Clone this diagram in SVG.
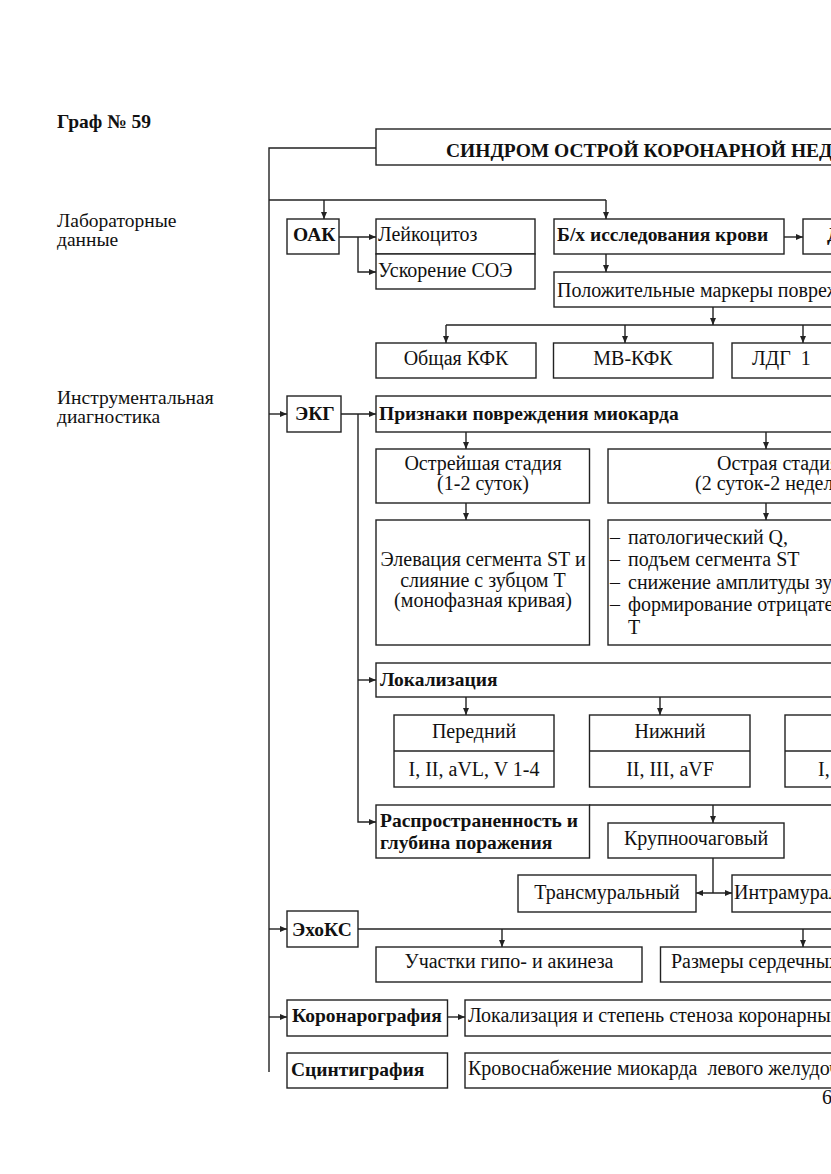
<svg xmlns="http://www.w3.org/2000/svg" width="831" height="1174" viewBox="0 0 831 1174">
<style>
text{font-family:"Liberation Serif","Times New Roman",serif;font-size:20px;fill:#111}
.b{font-weight:bold;font-size:19.5px}
.l{font-size:19.5px}
.m{text-anchor:middle}
rect{fill:#fff;stroke:#222;stroke-width:1.4}
.c line,.c polyline{stroke:#222;stroke-width:1.4;fill:none}
.a{marker-end:url(#ah)}
.d{marker-start:url(#ahs);marker-end:url(#ah)}
</style>
<defs>
<marker id="ah" markerUnits="userSpaceOnUse" markerWidth="8" markerHeight="8" refX="7" refY="4" orient="auto"><path d="M0,1 L7,4 L0,7 Z" fill="#222"/></marker>
<marker id="ahs" markerUnits="userSpaceOnUse" markerWidth="8" markerHeight="8" refX="0" refY="4" orient="auto"><path d="M7,1 L0,4 L7,7 Z" fill="#222"/></marker>
</defs>
<rect x="0" y="0" width="831" height="1174" style="fill:#fff;stroke:none"/>

<g id="labels">
<text x="57" y="128" class="b">Граф № 59</text>
<text x="57" y="227" class="l">Лабораторные</text>
<text x="57" y="246" class="l">данные</text>
<text x="57" y="404" class="l">Инструментальная</text>
<text x="57" y="423" class="l">диагностика</text>
<text x="822" y="1104">6</text>
</g>

<g class="c" id="connectors">
<polyline points="376,148 269,148 269,1072"/>
<line x1="269" y1="200" x2="606" y2="200"/>
<line x1="324" y1="200" x2="324" y2="219" class="a"/>
<line x1="606" y1="200" x2="606" y2="219" class="a"/>
<line x1="339" y1="237" x2="376" y2="237" class="a"/>
<polyline points="358,237 358,272 376,272" class="a"/>
<line x1="784" y1="237" x2="803" y2="237" class="a"/>
<line x1="606" y1="254" x2="606" y2="272" class="a"/>
<line x1="713" y1="307" x2="713" y2="325" class="a"/>
<line x1="446" y1="325" x2="831" y2="325"/>
<line x1="446" y1="325" x2="446" y2="343" class="a"/>
<line x1="625" y1="325" x2="625" y2="343" class="a"/>
<line x1="803" y1="325" x2="803" y2="343" class="a"/>
<line x1="269" y1="414" x2="287" y2="414" class="a"/>
<line x1="341" y1="414" x2="376" y2="414" class="a"/>
<polyline points="358,414 358,822 376,822" class="a"/>
<line x1="358" y1="680" x2="376" y2="680" class="a"/>
<line x1="466" y1="432" x2="466" y2="449" class="a"/>
<line x1="766" y1="432" x2="766" y2="449" class="a"/>
<line x1="466" y1="503" x2="466" y2="520" class="a"/>
<line x1="766" y1="503" x2="766" y2="520" class="a"/>
<line x1="466" y1="697" x2="466" y2="715" class="a"/>
<line x1="660" y1="697" x2="660" y2="715" class="a"/>
<line x1="589" y1="805" x2="831" y2="805"/>
<line x1="713" y1="805" x2="713" y2="823" class="a"/>
<line x1="713" y1="858" x2="713" y2="893"/>
<line x1="696" y1="893" x2="732" y2="893" class="d"/>
<line x1="269" y1="929" x2="287" y2="929" class="a"/>
<line x1="358" y1="929" x2="831" y2="929"/>
<line x1="502" y1="929" x2="502" y2="947" class="a"/>
<line x1="803" y1="929" x2="803" y2="947" class="a"/>
<line x1="269" y1="1017" x2="287" y2="1017" class="a"/>
<line x1="447" y1="1017" x2="465" y2="1017" class="a"/>
</g>

<g id="title"><rect x="376" y="129" width="480" height="36"/><text x="446" y="157" class="b">СИНДРОМ ОСТРОЙ КОРОНАРНОЙ НЕД</text></g>
<g id="oak"><rect x="287" y="219" width="52" height="35"/><text x="293" y="241" class="b">ОАК</text></g>
<g id="leuk"><rect x="376" y="219" width="159" height="35"/><text x="378" y="241">Лейкоцитоз</text></g>
<g id="soe"><rect x="376" y="254" width="159" height="35"/><text x="378" y="277">Ускорение СОЭ</text></g>
<g id="bx"><rect x="554" y="219" width="230" height="35"/><text x="557" y="241" class="b">Б/х исследования крови</text></g>
<g id="bx2"><rect x="803" y="219" width="60" height="35"/><text x="827" y="241" class="b">Д</text></g>
<g id="markers"><rect x="554" y="272" width="300" height="35"/><text x="557" y="297">Положительные маркеры повреж</text></g>
<g id="kfk"><rect x="376" y="343" width="160" height="35"/><text x="456" y="365" class="m">Общая КФК</text></g>
<g id="mbkfk"><rect x="553.5" y="343" width="159.5" height="35"/><text x="633" y="365" class="m">МВ-КФК</text></g>
<g id="ldg"><rect x="732" y="343" width="130" height="35"/><text x="752" y="365" xml:space="preserve">ЛДГ  1</text></g>
<g id="ekg"><rect x="287" y="396" width="54" height="36"/><text x="295" y="420" class="b">ЭКГ</text></g>
<g id="priznaki"><rect x="376" y="396" width="480" height="36"/><text x="379" y="420" class="b">Признаки повреждения миокарда</text></g>
<g id="ostr1"><rect x="376" y="449" width="213.5" height="54"/><text x="483" y="470" class="m">Острейшая стадия</text><text x="483" y="490" class="m">(1-2 суток)</text></g>
<g id="ostr2"><rect x="608" y="449" width="250" height="54"/><text x="717" y="470">Острая стадия</text><text x="695" y="490">(2 суток-2 недел</text></g>
<g id="elev"><rect x="376" y="520" width="213.5" height="125"/><text x="483" y="566" class="m">Элевация сегмента ST и</text><text x="483" y="587" class="m">слияние с зубцом T</text><text x="483" y="607" class="m">(монофазная кривая)</text></g>
<g id="signs"><rect x="608" y="520" width="250" height="125"/>
<text x="610" y="544">–</text><text x="628" y="544">патологический Q,</text>
<text x="610" y="566">–</text><text x="628" y="566">подъем сегмента ST</text>
<text x="610" y="589">–</text><text x="628" y="589">снижение амплитуды зу</text>
<text x="610" y="611">–</text><text x="628" y="611">формирование отрицате</text>
<text x="628" y="634">T</text></g>
<g id="lokal"><rect x="376" y="663" width="480" height="34"/><text x="380" y="686" class="b">Локализация</text></g>
<g id="peredn"><rect x="394" y="715" width="160" height="72"/><line x1="394" y1="751" x2="554" y2="751" style="stroke:#222;stroke-width:1.4"/><text x="474" y="738" class="m">Передний</text><text x="474" y="776" class="m">I, II, aVL, V 1-4</text></g>
<g id="nizh"><rect x="589.5" y="715" width="160.5" height="72"/><line x1="589.5" y1="751" x2="750" y2="751" style="stroke:#222;stroke-width:1.4"/><text x="670" y="738" class="m">Нижний</text><text x="670" y="776" class="m">II, III, aVF</text></g>
<g id="third"><rect x="785" y="715" width="80" height="72"/><line x1="785" y1="751" x2="865" y2="751" style="stroke:#222;stroke-width:1.4"/><text x="818" y="776">I,</text></g>
<g id="rasp"><rect x="376" y="805" width="213.5" height="53"/><text x="380" y="827" class="b">Распространенность и</text><text x="380" y="849" class="b">глубина поражения</text></g>
<g id="krupn"><rect x="608" y="823" width="176" height="35"/><text x="696" y="845" class="m">Крупноочаговый</text></g>
<g id="trans"><rect x="518" y="875" width="178" height="37"/><text x="607" y="899" class="m">Трансмуральный</text></g>
<g id="intra"><rect x="732" y="875" width="120" height="37"/><text x="734" y="899">Интрамурал</text></g>
<g id="echo"><rect x="287" y="911" width="71" height="36"/><text x="292" y="936" class="b">ЭхоКС</text></g>
<g id="uchastki"><rect x="376" y="947" width="266" height="35"/><text x="509" y="968" class="m">Участки гипо- и акинеза</text></g>
<g id="razmery"><rect x="660.5" y="947" width="190" height="35"/><text x="671" y="968">Размеры сердечных</text></g>
<g id="korono"><rect x="287" y="1000" width="160.5" height="36"/><text x="292" y="1022" class="b">Коронарография</text></g>
<g id="stenoz"><rect x="465" y="1000" width="390" height="36"/><text x="468" y="1022">Локализация и степень стеноза коронарных</text></g>
<g id="scint"><rect x="287" y="1053" width="160.5" height="35"/><text x="291" y="1076" class="b">Сцинтиграфия</text></g>
<g id="krovo"><rect x="465" y="1053" width="390" height="35"/><text x="468" y="1075" xml:space="preserve">Кровоснабжение миокарда  левого желудоч</text></g>
</svg>
